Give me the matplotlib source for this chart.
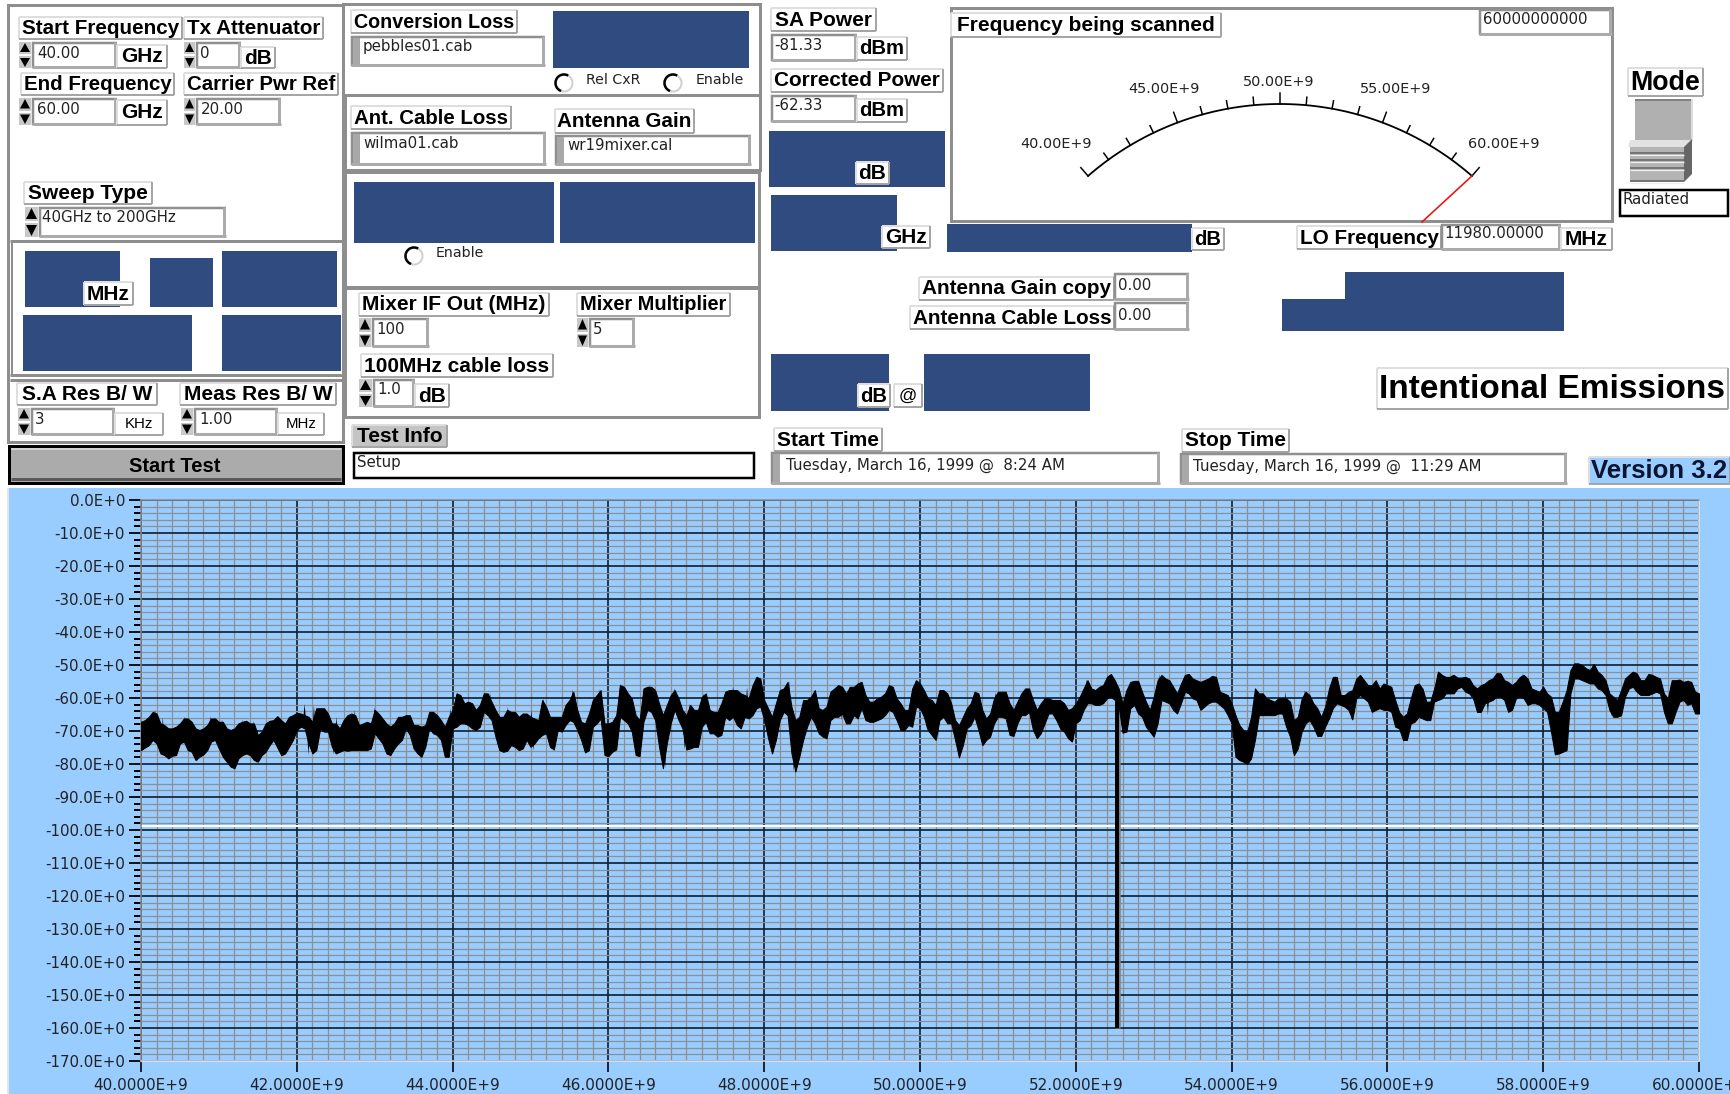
import numpy as np
import matplotlib
matplotlib.use("Agg")
import matplotlib.pyplot as plt
from matplotlib.patches import Rectangle, Polygon, Arc
from matplotlib.ticker import MultipleLocator, FuncFormatter

# ---------- trace data (GHz, dB): envelope read at 40.0, 40.1, ... 60.0 ----------
trace_upper = [
 -67.2,-65.7,-64.7,-68.2,-69.2,-67.7,-66.2,-69.2,-69.2,-66.2,
 -67.2,-69.2,-69.2,-67.2,-67.7,-71.2,-67.7,-66.7,-66.7,-65.7,
 -64.5,-65.2,-67.2,-63.1,-64.7,-67.7,-66.7,-64.7,-68.2,-67.2,
 -63.6,-66.2,-68.7,-65.7,-65.2,-68.2,-68.7,-64.2,-65.2,-68.7,
 -63.6,-59.1,-61.1,-63.6,-58.6,-61.1,-65.7,-63.6,-64.2,-64.7,
 -65.7,-66.7,-62.6,-65.7,-65.7,-60.6,-63.6,-67.7,-60.6,-57.6,
 -67.7,-65.2,-56.6,-60.1,-66.7,-56.6,-57.6,-65.2,-59.1,-60.1,
 -65.2,-63.6,-59.6,-63.6,-64.2,-58.1,-57.6,-58.6,-60.1,-53.6,
 -60.6,-65.7,-57.6,-55.1,-66.7,-60.6,-59.6,-63.1,-62.6,-57.1,
 -56.6,-56.6,-55.6,-59.1,-61.1,-59.6,-56.1,-60.1,-63.6,-57.1,
 -55.6,-60.1,-62.1,-57.6,-61.6,-68.2,-63.1,-58.1,-63.6,-64.7,
 -58.1,-58.1,-63.6,-58.6,-57.1,-63.6,-60.1,-60.6,-60.6,-63.6,
 -61.6,-57.1,-57.1,-56.6,-53.6,-54.6,-61.6,-55.1,-54.8,-61.1,
 -59.6,-53.0,-54.6,-58.6,-53.0,-54.1,-55.1,-54.1,-53.6,-58.6,
 -61.6,-68.2,-70.2,-57.1,-58.6,-60.6,-60.1,-60.1,-66.7,-60.1,
 -59.1,-63.1,-62.6,-53.6,-59.1,-58.1,-54.1,-54.6,-56.1,-57.1,
 -56.1,-60.6,-65.7,-60.1,-55.6,-61.1,-57.1,-53.0,-53.6,-53.8,
 -53.6,-56.1,-56.1,-54.6,-52.5,-54.6,-56.1,-53.6,-54.1,-57.6,
 -56.6,-59.6,-64.2,-57.6,-49.5,-50.0,-51.5,-52.0,-54.6,-59.6,
 -57.6,-53.0,-52.5,-54.6,-53.0,-54.1,-60.1,-54.6,-55.1,-55.1,
 -58.6]
trace_lower = [
 -75.8,-74.3,-73.8,-77.3,-77.5,-73.8,-75.8,-78.8,-77.1,-73.2,
 -75.3,-79.3,-81.3,-77.3,-77.3,-79.3,-76.3,-72.7,-77.3,-74.8,
 -69.7,-69.2,-76.8,-69.2,-70.2,-76.8,-75.8,-75.8,-75.8,-75.8,
 -70.7,-73.8,-77.3,-73.8,-69.2,-75.3,-77.8,-69.2,-71.2,-77.8,
 -69.2,-67.7,-68.2,-69.7,-64.2,-66.7,-75.8,-76.0,-74.8,-75.3,
 -74.8,-72.2,-70.7,-75.6,-70.2,-66.7,-69.7,-76.5,-68.7,-66.2,
 -77.6,-75.6,-66.7,-70.2,-77.6,-63.6,-66.7,-81.3,-67.7,-66.7,
 -75.6,-74.8,-68.7,-70.7,-71.7,-65.7,-65.7,-69.2,-66.2,-63.1,
 -66.7,-76.8,-66.7,-65.2,-82.3,-72.7,-65.7,-70.7,-72.2,-65.7,
 -64.7,-67.7,-66.2,-66.7,-67.2,-66.2,-63.6,-66.7,-69.7,-68.7,
 -63.1,-69.7,-72.7,-65.7,-67.7,-78.0,-69.2,-65.7,-74.3,-71.7,
 -65.7,-66.2,-71.5,-65.2,-64.2,-72.2,-67.7,-64.7,-69.2,-72.2,
 -67.7,-63.6,-61.6,-62.1,-60.1,-60.6,-70.5,-63.1,-64.7,-68.7,
 -71.7,-60.6,-61.6,-64.7,-58.1,-60.1,-63.6,-61.6,-61.1,-63.1,
 -67.7,-78.8,-80.0,-72.7,-65.2,-65.2,-64.7,-68.7,-77.3,-70.2,
 -66.7,-71.5,-68.7,-63.1,-62.1,-63.6,-60.1,-60.1,-64.2,-63.1,
 -63.6,-68.7,-72.7,-67.7,-65.7,-66.7,-61.1,-60.1,-58.6,-57.1,
 -58.1,-60.1,-64.2,-61.1,-59.6,-60.6,-63.6,-59.6,-62.1,-61.6,
 -63.1,-70.2,-76.8,-75.8,-54.1,-54.6,-55.6,-57.1,-59.1,-65.7,
 -65.2,-57.1,-58.1,-59.1,-58.6,-58.6,-67.7,-64.2,-60.6,-61.6,
 -64.7]
# envelope read at the half steps 40.05, 40.15, ... 59.95
half_upper = [
 -66.7,-64.2,-67.7,-69.2,-68.7,-66.2,-67.2,-69.7,-68.2,-66.2,
 -67.2,-69.7,-67.7,-66.9,-67.7,-70.2,-66.9,-65.5,-67.7,-65.2,
 -64.7,-65.7,-63.1,-63.1,-67.7,-69.2,-65.2,-65.2,-67.7,-67.7,
 -64.7,-67.7,-67.7,-65.7,-65.2,-68.2,-68.2,-64.2,-66.7,-65.7,
 -58.6,-61.6,-61.6,-62.1,-58.6,-63.6,-65.7,-64.2,-65.7,-64.7,
 -66.2,-60.6,-65.7,-65.7,-62.1,-58.1,-67.2,-64.7,-59.1,-67.7,
 -67.2,-56.1,-58.6,-65.2,-57.1,-56.6,-61.6,-62.1,-57.6,-63.6,
 -62.1,-63.6,-58.6,-64.2,-61.6,-57.6,-57.6,-59.1,-56.1,-54.1,
 -63.1,-61.6,-57.1,-62.6,-65.7,-60.6,-57.6,-63.6,-58.1,-56.1,
 -58.6,-56.6,-55.1,-61.1,-60.1,-58.6,-56.6,-61.6,-63.6,-54.6,
 -57.6,-60.6,-57.6,-58.6,-66.7,-65.7,-61.6,-58.6,-66.2,-60.1,-58.1,
 -61.6,-61.1,-57.1,-60.6,-61.6,-60.1,-60.6,-61.6,-63.1,-59.6,
 -54.6,-57.6,-56.1,-52.7,-57.1,-57.6,-54.8,-58.1,-63.6,-54.6,
 -54.1,-56.6,-55.6,-52.7,-54.6,-54.6,-53.3,-58.1,-59.1,-65.2,
 -69.7,-65.7,-58.6,-60.1,-61.1,-60.1,-61.1,-65.7,-58.1,-61.6,-65.7,
 -57.1,-53.6,-59.1,-57.6,-53.0,-56.1,-54.6,-55.6,-56.6,
 -64.2,-64.7,-56.1,-57.1,-61.1,-52.0,-53.6,-53.0,-53.8,-54.1,
 -57.1,-55.6,-54.1,-52.5,-55.1,-55.1,-53.0,-57.1,-58.1,-58.6,
 -64.2,-61.1,-51.5,-49.5,-51.0,-49.7,-53.0,-58.6,-60.6,-54.1,
 -52.0,-54.6,-52.7,-53.6,-58.6,-54.6,-54.4,-54.8,-58.1]
half_lower = [
 -75.0,-72.7,-76.8,-78.3,-77.3,-73.2,-76.3,-77.8,-75.8,-72.7,
 -77.8,-80.8,-78.3,-76.8,-78.8,-77.3,-74.3,-75.0,-76.8,-72.7,
 -68.7,-73.8,-75.8,-70.2,-74.8,-76.3,-76.0,-75.8,-75.8,-75.3,
 -72.2,-76.8,-75.3,-72.7,-71.2,-76.8,-74.8,-70.7,-72.7,-77.8,
 -68.7,-67.7,-69.2,-68.7,-65.2,-71.7,-76.3,-74.3,-75.8,-72.7,
 -73.8,-71.2,-74.8,-69.7,-68.2,-67.2,-72.7,-75.8,-67.7,-77.3,
 -76.3,-65.7,-67.7,-77.3,-67.2,-64.2,-74.8,-73.8,-63.6,-69.2,
 -75.3,-74.8,-67.2,-70.7,-71.2,-66.7,-68.2,-65.7,-65.2,-62.6,
 -72.2,-72.7,-64.2,-76.8,-77.8,-68.7,-67.7,-71.7,-66.7,-65.7,
 -67.7,-65.2,-63.1,-67.2,-66.7,-65.2,-64.2,-69.7,-68.2,-62.6,
 -65.7,-71.2,-66.7,-67.7,-72.7,-74.3,-68.2,-69.7,-72.7,-67.7,-65.7,
 -71.2,-67.7,-65.2,-69.7,-70.7,-64.7,-66.7,-70.2,-73.2,-66.7,
 -61.6,-62.1,-61.6,-59.6,-62.6,-70.2,-62.1,-65.7,-70.2,-67.7,
 -61.1,-63.6,-61.6,-58.6,-60.6,-62.6,-61.1,-62.1,-65.2,-77.8,
 -79.3,-78.3,-65.2,-65.2,-65.2,-64.7,-71.7,-75.3,-67.7,-68.7,-71.5,
 -66.2,-61.6,-62.6,-66.5,-59.1,-61.1,-63.6,-63.6,-64.2,
 -69.2,-72.7,-67.2,-66.2,-66.7,-60.6,-58.6,-58.6,-56.6,-58.6,
 -64.2,-61.6,-60.6,-59.6,-64.2,-60.1,-60.1,-61.6,-62.1,-64.2,
 -77.1,-76.3,-58.6,-54.1,-55.1,-55.6,-57.6,-63.6,-65.7,-59.6,
 -56.6,-59.1,-59.1,-58.1,-64.2,-67.7,-61.1,-62.1,-64.7]
spike_up_freq = [40.18,40.28,40.56,40.89,41.04,41.30,41.44,41.76,42.10,42.22,42.51,42.74,43.00,
 43.97,44.06,44.41,44.48,44.71,45.01,45.17,45.54,45.89,46.15,46.53,46.85,47.04,47.22,47.60,47.78,
 47.92,48.32,48.65,48.95,49.10,49.24,49.62,49.94,50.27,50.71,50.97,51.09,51.37,52.14,52.46,52.76,
 53.07,53.44,53.74,54.31,54.69,54.94,55.33,55.64,55.95,56.42,56.65,56.83,57.42,57.74,58.40,58.64,
 59.19,59.39,59.74,59.86]
spike_up_db = [-63.5,-65.9,-65.7,-65.5,-66.5,-66.5,-66.9,-65.5,-61.8,-62.1,-65.7,-63.6,-62.9,
 -63.1,-58.3,-58.4,-58.4,-62.6,-63.6,-60.1,-57.4,-57.4,-55.6,-56.1,-57.1,-61.6,-58.6,-56.6,-56.8,
 -53.3,-54.8,-57.8,-55.8,-56.4,-54.8,-56.1,-54.6,-57.4,-58.1,-58.3,-58.1,-57.1,-54.4,-52.7,-54.8,
 -52.7,-52.7,-53.3,-56.9,-58.1,-57.6,-53.3,-53.0,-55.6,-55.6,-52.0,-52.7,-52.3,-52.5,-49.3,-49.7,
 -52.0,-52.7,-54.4,-54.4]
spike_dn_freq = [40.35,40.72,41.16,41.48,41.83,42.15,42.47,43.21,43.59,43.92,45.04,45.27,45.70,46.37,
 46.73,46.98,47.13,47.42,47.69,48.12,48.38,48.79,48.99,49.75,50.09,50.23,50.51,50.83,51.18,51.52,
 51.97,52.63,52.99,54.19,54.79,55.15,55.54,55.82,56.26,56.33,56.50,57.17,57.29,57.58,58.16,58.27,
 58.88,59.62]
spike_dn_db = [-78.5,-79.3,-81.3,-79.8,-77.8,-77.3,-77.1,-77.6,-78.5,-78.1,-76.0,-75.6,-76.5,-77.6,
 -81.3,-75.6,-74.8,-71.9,-69.2,-77.1,-82.3,-72.2,-66.7,-69.9,-69.5,-72.7,-78.1,-74.3,-71.5,-72.2,
 -73.2,-70.5,-71.7,-80.0,-77.3,-71.5,-66.7,-64.5,-73.0,-67.5,-67.0,-64.5,-65.2,-64.4,-77.1,-76.3,
 -65.5,-67.9]
notch_freq = 52.53
notch_top = -60.0
notch_floor = -160.0
cursor_level = -98.9

# ---------- front panel data ----------
meter_major_labels = ["40.00E+9", "45.00E+9", "50.00E+9", "55.00E+9", "60.00E+9"]
meter_min, meter_max, meter_value = 40.0, 60.0, 60.0
date_start = "Tuesday, March 16, 1999 @  8:24 AM"
date_stop = "Tuesday, March 16, 1999 @  11:29 AM"

BG = "#99CCFF"
BLUE = "#2F4B80"
FRAME = "#8E8E8E"
SANS = "Liberation Sans"
MONO = "DejaVu Sans"
SMALL = 10.8

W, H = 1731, 1094
fig = plt.figure(figsize=(W / 100, H / 100), dpi=100, facecolor="white")
renderer = fig.canvas.get_renderer()
ui = fig.add_axes([0, 0, 1, 1])
ui.set_xlim(0, W)
ui.set_ylim(H, 0)
ui.axis("off")


def px(v):
    return v * 0.72


def rect(x0, y0, x1, y1, fc="none", ec="none", lw=0, z=1):
    ui.add_patch(Rectangle((x0, y0), x1 - x0, y1 - y0, fc=fc, ec=ec, lw=px(lw), zorder=z))


def hv(xs, ys, c, lw, z=3):
    ui.plot(xs, ys, color=c, lw=px(lw), solid_capstyle="butt", zorder=z)


def panel(x0, y0, x1, y1):
    rect(x0, y0, x1, y1, ec=FRAME, lw=3, z=2)


def blue(x0, y0, x1, y1):
    rect(x0, y0, x1, y1, fc=BLUE, z=2)


def label(x0, y0, x1, y1, s, size=15, fc="white", bold=True, color="black"):
    """Bevelled caption; the text is sized so that it fills the box as in the panel."""
    rect(x0, y0, x1, y1, fc=fc, z=4)
    hv([x0, x1], [y0, y0], "#DEDEDE", 2, 5)
    hv([x0, x0], [y0, y1], "#DEDEDE", 2, 5)
    hv([x0, x1], [y1, y1], "#A5A5A5", 2, 5)
    hv([x1, x1], [y0, y1], "#A5A5A5", 2, 5)
    t = ui.text((x0 + x1) / 2, (y0 + y1) / 2 + 0.5, s, fontsize=size, family=SANS,
                fontweight="bold" if bold else "normal", ha="center", va="center", color=color, zorder=6)
    width = t.get_window_extent(renderer).width
    if width > x1 - x0 - 5:
        t.set_fontsize(size * (x1 - x0 - 5) / width)


def field(x0, y0, x1, y1, s, dx=5, dy=11, size=SMALL):
    rect(x0, y0, x1, y1, fc="white", z=4)
    hv([x0, x1], [y0 + 1, y0 + 1], "#909090", 2.5, 5)
    hv([x0 + 1, x0 + 1], [y0, y1], "#909090", 2.5, 5)
    hv([x0, x1], [y1 - 1.5, y1 - 1.5], "#ABABAB", 3, 5)
    hv([x1 - 1.5, x1 - 1.5], [y0, y1], "#ABABAB", 3, 5)
    ui.text(x0 + dx, y0 + dy, s, fontsize=size, family=MONO, ha="left", va="center",
            color="#222222", zorder=6)


def wide_field(x0, y0, x1, y1, s, dx=12, dy=11, size=SMALL):
    field(x0, y0, x1, y1, s, dx=dx, dy=dy, size=size)
    rect(x0 + 2, y0 + 2, x0 + 9, y1 - 2, fc="#A8A8A8", z=5)


def spinner(x0, y0, x1, y1):
    rect(x0, y0, x1, y1, fc="#C8C8C8", z=4)
    xm, ym = (x0 + x1) / 2, (y0 + y1) / 2
    hv([x0, x1], [ym, ym], "white", 2, 5)
    ui.add_patch(Polygon([(x0 + 1, ym - 3), (x1 - 1, ym - 3), (xm, y0 + 1)], fc="black", zorder=6))
    ui.add_patch(Polygon([(x0 + 1, ym + 3), (x1 - 1, ym + 3), (xm, y1 - 1)], fc="black", zorder=6))


def radio(x, y):
    ui.add_patch(Arc((x, y), 17, 17, theta1=0, theta2=360, color="#D0D0D0", lw=px(2), zorder=5))
    ui.add_patch(Arc((x, y), 17, 17, theta1=110, theta2=300, color="black", lw=px(2.5), zorder=6))


def small(x, y, s, size=SMALL):
    ui.text(x, y, s, fontsize=size, family=MONO, ha="left", va="center", color="#222222", zorder=6)


# ---- left panels
panel(8, 5, 343, 442)
hv([10, 343], [241, 241], FRAME, 3)
hv([10, 343], [375, 375], FRAME, 3)
hv([10, 343], [380, 380], FRAME, 3)
hv([12, 12], [241, 375], FRAME, 2)
label(19, 17, 182, 39, "Start Frequency")
label(184, 17, 323, 39, "Tx Attenuator")
spinner(19, 42, 31, 68); field(32, 42, 117, 68, "40.00")
label(117, 45, 167, 68, "GHz")
spinner(184, 42, 195, 68); field(196, 42, 241, 68, "0", dx=4)
label(241, 47, 275, 68, "dB")
label(21, 73, 174, 95, "End Frequency")
label(184, 73, 338, 95, "Carrier Pwr Ref")
spinner(19, 98, 31, 125); field(32, 98, 117, 125, "60.00")
label(117, 100, 167, 125, "GHz")
spinner(184, 98, 195, 125); field(196, 98, 281, 125, "20.00", dx=5)
label(24, 182, 152, 204, "Sweep Type")
spinner(25, 207, 38, 237); field(39, 207, 226, 237, "40GHz to 200GHz", dx=3)
blue(25, 251, 120, 307); blue(150, 258, 213, 307); blue(222, 251, 337, 307)
blue(23, 315, 192, 371); blue(222, 315, 341, 371)
label(84, 282, 133, 305, "MHz")
label(17, 383, 157, 405, "S.A Res B/ W")
label(180, 383, 336, 405, "Meas Res B/ W")
spinner(18, 408, 30, 435); field(31, 408, 115, 435, "3", dx=4)
label(115, 413, 163, 435, "KHz", size=10.8, bold=False)
spinner(181, 408, 193, 435); field(194, 408, 278, 435, "1.00", dx=5)
label(278, 413, 324, 435, "MHz", size=10.8, bold=False)
rect(9, 446, 343, 483, fc="#ABABAB", ec="black", lw=3, z=4)
hv([11, 341], [449, 449], "#D0D0D0", 2, 5)
hv([11, 341], [479, 479], "#5A5A5A", 3, 5)
ui.text(175, 466, "Start Test", fontsize=14.5, family=SANS, fontweight="bold", ha="center", va="center", zorder=6)

# ---- middle panels
panel(343, 4, 760, 95); panel(345, 95, 760, 170); panel(345, 172, 759, 287); panel(345, 288, 759, 417)
label(351, 10, 517, 33, "Conversion Loss")
wide_field(351, 36, 545, 66, "pebbles01.cab")
blue(553, 11, 749, 68)
radio(564, 83); small(586, 80, "Rel CxR", 10.2)
radio(673, 83); small(696, 80, "Enable", 10.2)
label(351, 106, 511, 129, "Ant. Cable Loss")
wide_field(351, 132, 546, 165, "wilma01.cab")
label(555, 109, 694, 133, "Antenna Gain")
wide_field(555, 135, 751, 165, "wr19mixer.cal")
blue(354, 182, 554, 243); blue(560, 182, 755, 243)
radio(414, 256); small(436, 253, "Enable", 10.2)
label(359, 293, 549, 316, "Mixer IF Out (MHz)")
label(577, 293, 730, 316, "Mixer Multiplier")
spinner(359, 318, 371, 347); field(372, 318, 429, 347, "100", dx=4)
spinner(577, 318, 588, 347); field(589, 318, 635, 347, "5", dx=4)
label(361, 354, 553, 377, "100MHz cable loss")
spinner(359, 379, 372, 407); field(373, 379, 415, 407, "1.0", dx=4)
label(415, 384, 449, 407, "dB")
label(352, 425, 447, 447, "Test Info", fc="#C4C4C4")
rect(354, 453, 754, 478, fc="white", ec="black", lw=2.5, z=4)
small(357, 463, "Setup")

# ---- right column
label(771, 8, 876, 31, "SA Power")
field(771, 34, 857, 61, "-81.33", dx=3, dy=11)
label(857, 37, 907, 60, "dBm")
label(771, 69, 943, 92, "Corrected Power")
field(771, 95, 857, 122, "-62.33", dx=3, dy=11)
label(857, 99, 907, 122, "dBm")
blue(769, 131, 945, 187); label(856, 162, 889, 184, "dB")
blue(771, 195, 897, 251); label(882, 226, 930, 248, "GHz")
blue(947, 224, 1192, 252); label(1192, 228, 1224, 250, "dB")

# ---- meter
panel(951, 8, 1612, 221)
label(951, 13, 1221, 37, "Frequency being scanned")
field(1479, 9, 1612, 35, "60000000000", dx=4, dy=10)
cx, cy, R = 1280.0, 396.0, 292.0
half = 41.1


def meter_angle(v):
    return np.radians(-half + 2 * half * (v - meter_min) / (meter_max - meter_min))


arc_v = np.arange(meter_min, meter_max + 0.1, 0.25)
ui.plot(cx + R * np.sin(meter_angle(arc_v)), cy - R * np.cos(meter_angle(arc_v)), color="black", lw=px(1.8), zorder=3)
for i, v in enumerate(np.arange(meter_min, meter_max + 0.1, 1.25)):
    a = meter_angle(v)
    ln = 11 if i % 4 == 0 else 8
    ui.plot([cx + R * np.sin(a), cx + (R + ln) * np.sin(a)], [cy - R * np.cos(a), cy - (R + ln) * np.cos(a)],
            color="black", lw=px(1.5), zorder=3)
for s, x, y in zip(meter_major_labels, [1056, 1164, 1279, 1396, 1504], [144, 89, 82, 89, 144]):
    ui.text(x, y, s, fontsize=10.4, family=MONO, ha="center", va="center", color="#222222", zorder=6)
a = meter_angle(meter_value)
ui.plot([cx + R * np.sin(a), 1422], [cy - R * np.cos(a), 222], color="#EE1111", lw=px(1.6), zorder=6)

label(1297, 226, 1441, 249, "LO Frequency")
field(1441, 224, 1561, 250, "11980.00000", dx=3, dy=10)
label(1561, 228, 1612, 250, "MHz")

# mode icon
label(1628, 68, 1703, 96, "Mode", size=22)
rect(1635, 99, 1692, 141, fc="#B0B0B0", z=3)
hv([1635, 1692], [100, 100], "#808080", 2, 4)
hv([1692.5, 1692.5], [99, 141], "#DDDDDD", 2, 4)
ui.add_patch(Polygon([(1630, 140), (1692, 140), (1690, 147), (1628, 147)], fc="#E2E2E2", zorder=4))
rect(1630, 147, 1684, 182, fc="#B4B4B4", z=3)
ui.add_patch(Polygon([(1684, 147), (1692, 139), (1692, 174), (1684, 182)], fc="#666666", zorder=4))
for yy in [153, 160, 168, 181]:
    hv([1630, 1684], [yy, yy], "#6E6E6E", 1.8, 5)
    hv([1630, 1684], [yy + 1.8, yy + 1.8], "#EFEFEF", 1.2, 5)
rect(1620, 190, 1728, 216, fc="white", ec="black", lw=2.5, z=4)
small(1623, 200, "Radiated")

label(919, 277, 1114, 300, "Antenna Gain copy")
field(1114, 273, 1189, 300, "0.00", dx=4, dy=12)
label(910, 306, 1114, 329, "Antenna Cable Loss")
field(1114, 302, 1189, 330, "0.00", dx=4, dy=13)
blue(1345, 272, 1564, 300); blue(1282, 299, 1564, 331)
blue(771, 354, 889, 411); label(858, 384, 890, 407, "dB")
label(894, 384, 922, 407, "@", size=13, bold=False)
blue(924, 354, 1090, 411)
label(1377, 368, 1728, 409, "Intentional Emissions", size=30)
label(774, 428, 882, 451, "Start Time")
wide_field(771, 452, 1160, 484, date_start, dx=15, dy=13)
label(1182, 429, 1289, 452, "Stop Time")
wide_field(1180, 453, 1567, 484, date_stop, dx=13, dy=13)
label(1589, 457, 1730, 484, "Version 3.2", size=22, fc=BG, color="#0A1430")

# ---- chart background
rect(8, 488, W, H, fc=BG, z=1)
hv([8, 8], [488, H], "#E4E4E4", 2, 2)

# ---------- chart ----------
ax = fig.add_axes([141 / W, 1 - 1061 / H, (1699 - 141) / W, (1061 - 500) / H], facecolor="none")
ax.set_xlim(40, 60)
ax.set_ylim(-170, 0)
ax.xaxis.set_major_locator(MultipleLocator(2))
ax.xaxis.set_minor_locator(MultipleLocator(0.2))
ax.yaxis.set_major_locator(MultipleLocator(10))
ax.yaxis.set_minor_locator(MultipleLocator(2))
ax.xaxis.set_major_formatter(FuncFormatter(lambda v, p: f"{v:.4f}E+9"))
ax.yaxis.set_major_formatter(FuncFormatter(lambda v, p: f"{v:.1f}E+0" if v else "0.0E+0"))
ax.grid(True, which="minor", color="#8F8F8F", lw=px(1.2), zorder=1)
ax.grid(True, which="major", color="#14202F", lw=px(1.7), zorder=1.5)
ax.set_axisbelow(True)
ax.tick_params(axis="x", which="major", length=px(11), width=px(1.6), pad=px(6), labelsize=11, color="black", labelcolor="#222222")
ax.tick_params(axis="x", which="minor", length=0)
ax.tick_params(axis="y", which="major", length=px(12), width=px(1.8), pad=px(4), labelsize=10.8, color="black", labelcolor="#222222")
ax.tick_params(axis="y", which="minor", length=px(7), width=px(2), color="black")
for lab in ax.get_xticklabels() + ax.get_yticklabels():
    lab.set_family(MONO)
for side in ax.spines:
    ax.spines[side].set_color("#8C8C8C")
    ax.spines[side].set_linewidth(px(1.5))
ax.spines["bottom"].set_color("#E6E6E6")
ax.spines["right"].set_color("#E6E6E6")

step_freq = 40 + 0.1 * np.arange(len(trace_upper))
half_freq = 40.05 + 0.1 * np.arange(len(half_upper))
trace_freq = np.concatenate([step_freq, half_freq])
order = np.argsort(trace_freq)
trace_freq = trace_freq[order]
upper = np.concatenate([trace_upper, half_upper])[order]
lower = np.concatenate([trace_lower, half_lower])[order]
mid = (upper + lower) / 2
ax.axhline(cursor_level, color="white", lw=px(2), zorder=1.8)
ax.fill_between(trace_freq, lower, upper, color="black", lw=px(1), zorder=3)
for f, v in list(zip(spike_up_freq, spike_up_db)) + list(zip(spike_dn_freq, spike_dn_db)):
    m = np.interp(f, trace_freq, mid)
    ax.fill([f - 0.02, f, f + 0.02], [m, v, m], color="black", lw=0, zorder=3)
ax.vlines(notch_freq + 0.012, notch_floor, notch_top, color="#808080", lw=px(4.5), zorder=2.9)
ax.vlines(notch_freq, notch_floor, notch_top, color="black", lw=px(4), zorder=3)

fig.savefig("out.png", dpi=100, facecolor="white")
